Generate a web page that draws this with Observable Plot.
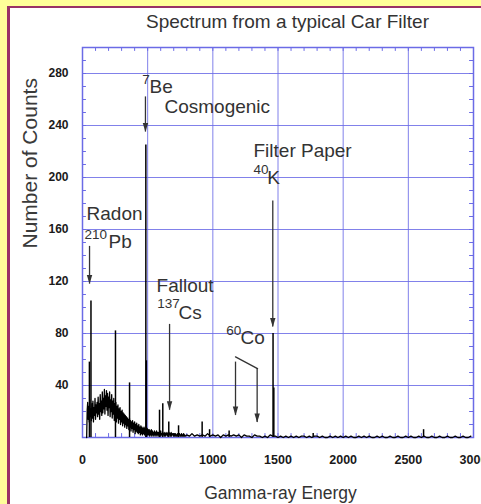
<!DOCTYPE html>
<html><head><meta charset="utf-8">
<script src="https://cdn.jsdelivr.net/npm/d3@7"></script>
<script src="https://cdn.jsdelivr.net/npm/@observablehq/plot@0.6"></script>
<style>
html,body{margin:0;padding:0}
body{background:#ffff99;width:481px;height:504px;overflow:hidden;position:relative;font-family:"Liberation Sans",Arial,sans-serif}
#box{position:absolute;left:7px;top:6px;width:480px;height:500px;background:#fff;border-left:3px solid #993366;border-top:2px solid #993366}
#chart{position:absolute;left:0;top:0}
</style></head>
<body>
<div id="box"><div id="chart"></div></div>
<script>
// ---- data ----
const xTicks = [0, 500, 1000, 1500, 2000, 2500, 3000];
const yTicks = [40, 80, 120, 160, 200, 240, 280];

// continuum, channels of 4 keV from 32 keV
const lowStart = 32, lowStep = 4;
const lowCounts = [
  0, 21, 27, 14, 24, 12, 29, 16, 22, 13,
  26, 15, 28, 12, 23, 17, 30, 14, 25, 19,
  27, 16, 31, 18, 26, 14, 33, 20, 28, 17,
  35, 19, 30, 22, 37, 18, 32, 24, 36, 21,
  34, 17, 31, 23, 35, 16, 29, 20, 33, 15,
  28, 18, 30, 13, 26, 16, 27, 12, 24, 15,
  25, 11, 22, 14, 23, 10, 20, 12, 21, 9,
  19, 11, 18, 8, 17, 10, 16, 7, 15, 9,
  14, 6, 15, 8, 13, 5, 12, 7, 13, 4,
  11, 6, 12, 3, 10, 5, 11, 4, 9, 3,
  10, 4, 8, 2, 9, 3, 8, 2, 7, 3,
  8, 2, 7, 3, 6, 1, 7, 2, 6, 2,
  6, 1, 5, 2, 6, 1, 5, 2, 4, 1,
  5, 2, 4, 1, 5, 2, 4, 1, 4, 2,
  4, 1, 5, 2, 3, 1, 4, 2, 3, 1,
  4, 1, 3, 2, 4, 1, 3, 1, 4, 2,
  3, 1, 4, 1, 3, 2, 3, 1, 3, 1,
  3, 1, 2, 1, 3, 1, 2, 2, 3, 1,
  2, 1, 3, 1, 2, 1, 3, 1, 2, 1
];
// continuum, channels of 20 keV from 800 keV
const highStart = 800, highStep = 20;
const highCounts = [
  2, 1, 3, 1, 2, 1, 2, 1, 3, 1,
  2, 1, 2, 0, 2, 1, 2, 1, 2, 1,
  2, 0, 2, 1, 1, 0, 2, 1, 1, 0,
  1, 0, 2, 1, 1, 0, 1, 0, 1, 0,
  1, 0, 1, 0, 1, 1, 0, 1, 0, 1,
  1, 0, 1, 0, 0, 1, 0, 1, 0, 1,
  0, 1, 0, 1, 0, 0, 1, 0, 1, 0,
  1, 0, 0, 1, 0, 1, 0, 0, 1, 0,
  0, 1, 0, 0, 1, 0, 1, 0, 0, 1,
  0, 1, 0, 0, 1, 0, 0, 1, 0, 0,
  1, 0, 0, 1, 0, 0, 1, 0, 0, 1
];
// peak lines
const peakEnergy = [53, 65, 253, 361, 486, 490, 591, 616, 662, 737, 918, 975, 1125, 1462, 1468, 1770, 2617];
const peakCounts = [58, 105, 82, 42, 225, 59, 21, 26, 12, 9, 12, 6, 5, 80, 38, 3, 6];

// annotation arrows (energy, from count, to count)
const arrowEnergy = [54, 483, 668, 1174, 1340, 1460];
const arrowFrom = [147, 262, 87, 58, 53, 182];
const arrowTo = [118, 235, 21, 17, 11.5, 85];
const coLinkEnergy = [1174, 1343];
const coLinkCount = [62, 53];

// labels
const labelText = ["Be", "Cosmogenic", "Filter Paper", "K", "Radon", "Pb", "Fallout", "Cs", "Co"];
const labelEnergy = [514, 629, 1312, 1417, 31, 200, 568, 737, 1212];
const labelCount = [265, 250, 216, 195, 167, 146, 112, 91.5, 72];
const supText = ["7", "40", "210", "137", "60"];
const supEnergy = [458, 1312, 15, 573, 1102];
const supCount = [272, 203, 153, 100, 79];

// ---- build ----
const spectrum = lowCounts.map((c, i) => ({e: lowStart + i * lowStep, c}))
  .concat(highCounts.map((c, i) => ({e: highStart + i * highStep, c})));
const peaks = peakEnergy.map((e, i) => ({e, c: peakCounts[i]}));
const arrows = arrowEnergy.map((e, i) => ({e, c1: arrowFrom[i], c2: arrowTo[i]}));
const coLink = coLinkEnergy.map((e, i) => ({e, c: coLinkCount[i]}));
const labels = labelText.map((t, i) => ({t, e: labelEnergy[i], c: labelCount[i]}));
const sups = supText.map((t, i) => ({t, e: supEnergy[i], c: supCount[i]}));
const xMinor = d3.range(0, 3001, 100);
const yMinor = d3.range(0, 301, 10);

const blue = "#6b6be6";
const ink = "#333";
const head = {draw(ctx) { ctx.moveTo(0, 0); ctx.lineTo(-2.7, -9); ctx.lineTo(2.7, -9); ctx.closePath(); }};

const chart = Plot.plot({
  width: 471, height: 496,
  marginLeft: 72, marginRight: 8, marginTop: 39, marginBottom: 67,
  style: {fontFamily: "'Liberation Sans', Arial, sans-serif", background: "transparent", overflow: "visible", color: "#1a1a1a"},
  x: {domain: [0, 3000]},
  y: {domain: [0, 300]},
  marks: [
    Plot.ruleX(xTicks, {stroke: blue, strokeWidth: 1, strokeOpacity: 0.85}),
    Plot.ruleY(yTicks, {stroke: blue, strokeWidth: 1, strokeOpacity: 0.85}),
    Plot.ruleX(xMinor, {x: d => d, y1: 0, y2: 3, stroke: blue}),
    Plot.ruleX(xMinor, {x: d => d, y1: 297, y2: 300, stroke: blue}),
    Plot.ruleY(yMinor, {y: d => d, x1: 0, x2: 30, stroke: blue}),
    Plot.ruleY(yMinor, {y: d => d, x1: 2970, x2: 3000, stroke: blue}),
    Plot.frame({stroke: blue, strokeWidth: 1.5}),
    Plot.line(spectrum, {x: "e", y: "c", stroke: "#000", strokeWidth: 1.3}),
    Plot.ruleX(peaks, {x: "e", y1: 0, y2: "c", stroke: "#000", strokeWidth: 1.5}),
    Plot.ruleX(arrows, {x: "e", y1: "c1", y2: "c2", stroke: ink, strokeWidth: 1.3}),
    Plot.dot(arrows, {x: "e", y: "c2", symbol: head, fill: ink, stroke: "none", r: 4}),
    Plot.line(coLink, {x: "e", y: "c", stroke: ink, strokeWidth: 1.3}),
    Plot.text(labels, {x: "e", y: "c", text: "t", textAnchor: "start", lineAnchor: "bottom", fontSize: 19, fill: ink}),
    Plot.text(sups, {x: "e", y: "c", text: "t", textAnchor: "start", lineAnchor: "bottom", fontSize: 13.5, fill: ink}),
    Plot.axisX(xTicks, {anchor: "bottom", tickSize: 0, tickPadding: 18, fontSize: 12.5, fontWeight: "bold", label: null, tickFormat: d => String(d)}),
    Plot.axisY(yTicks, {anchor: "left", tickSize: 0, tickPadding: 14, fontSize: 12, fontWeight: "bold", label: null, tickFormat: d => String(d)}),
    Plot.text(["Spectrum from a typical Car Filter"], {frameAnchor: "top", dx: 9.5, dy: -20, lineAnchor: "bottom", fontSize: 19, fill: ink}),
    Plot.text(["Gamma-ray Energy"], {frameAnchor: "bottom", dx: 2.5, dy: 61, lineAnchor: "bottom", fontSize: 17.5, fill: ink}),
    Plot.text(["Number of Counts"], {frameAnchor: "left", rotate: -90, dx: -52, dy: 6, fontSize: 21, fill: "#3a3a3a"})
  ]
});
document.getElementById("chart").appendChild(chart);
</script>
</body></html>
